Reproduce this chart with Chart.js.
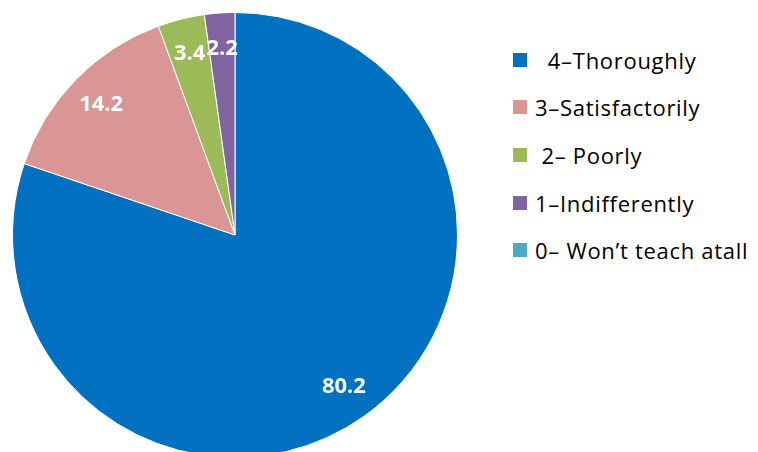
<!DOCTYPE html>
<html>
<head>
<meta charset="utf-8">
<script src="https://cdn.jsdelivr.net/npm/chart.js@4"></script>
<style>
  html, body { margin: 0; padding: 0; background: #fff; overflow: hidden; }
  #wrap { position: relative; width: 758px; height: 452px; overflow: hidden; }
  #box { position: absolute; left: 0; top: 0; width: 470px; height: 470px; }
  #legend { position: absolute; left: 513px; top: 36px; margin: 0; padding: 0; list-style: none;
            font-family: "Open Sans", Lato, sans-serif; font-size: 22px; letter-spacing: 0.7px; color: #000; }
  #legend li { height: 47.6px; display: flex; align-items: center; white-space: pre; }
  #legend span.sw { display: inline-block; width: 14px; height: 14px; margin-right: 8px; }
</style>
</head>
<body>
<div id="wrap">
  <div id="box"><canvas id="pieChart"></canvas></div>
  <ul id="legend"></ul>
</div>
<script>
// categorie e valori (%)
const categories = ['  4\u2013Thoroughly', '3\u2013Satisfactorily', ' 2\u2013 Poorly', '1\u2013Indifferently', '0\u2013 Won\u2019t teach atall'];
const percentages = [80.2, 14.2, 3.4, 2.2, 0];
const sliceColors = ['#0070C0', '#D99694', '#9BBB59', '#8064A2', '#4BACC6'];

// etichette dentro le fette
const sliceLabels = {
    id: 'sliceLabels',
    afterDatasetsDraw(chart) {
        const ctx = chart.ctx;
        const meta = chart.getDatasetMeta(0);
        ctx.save();
        ctx.fillStyle = '#fff';
        ctx.font = 'bold 22px "Open Sans", Lato, sans-serif';
        ctx.textAlign = 'center';
        ctx.textBaseline = 'middle';
        meta.data.forEach((arc, i) => {
            const v = percentages[i];
            if (!v) return;
            const p = arc.getProps(['x', 'y', 'startAngle', 'endAngle', 'outerRadius']);
            const mid = (p.startAngle + p.endAngle) / 2;
            const r = p.outerRadius * 0.84;
            ctx.fillText(v.toFixed(1), p.x + Math.cos(mid) * r, p.y + Math.sin(mid) * r);
        });
        ctx.restore();
    }
};

document.addEventListener('DOMContentLoaded', function() {
    const ctx = document.getElementById('pieChart').getContext('2d');
    new Chart(ctx, {
        type: 'pie',
        data: {
            labels: categories,
            datasets: [{
                data: percentages,
                backgroundColor: sliceColors,
                borderColor: '#fff',
                borderWidth: 1
            }]
        },
        options: {
            responsive: true,
            maintainAspectRatio: false,
            animation: false,
            layout: { padding: 12 },
            plugins: {
                legend: { display: false },
                tooltip: { enabled: false }
            }
        },
        plugins: [sliceLabels]
    });

    // legenda
    const ul = document.getElementById('legend');
    categories.forEach((name, i) => {
        const li = document.createElement('li');
        const sw = document.createElement('span');
        sw.className = 'sw';
        sw.style.background = sliceColors[i];
        li.appendChild(sw);
        li.appendChild(document.createTextNode(name));
        ul.appendChild(li);
    });
});
</script>
</body>
</html>
